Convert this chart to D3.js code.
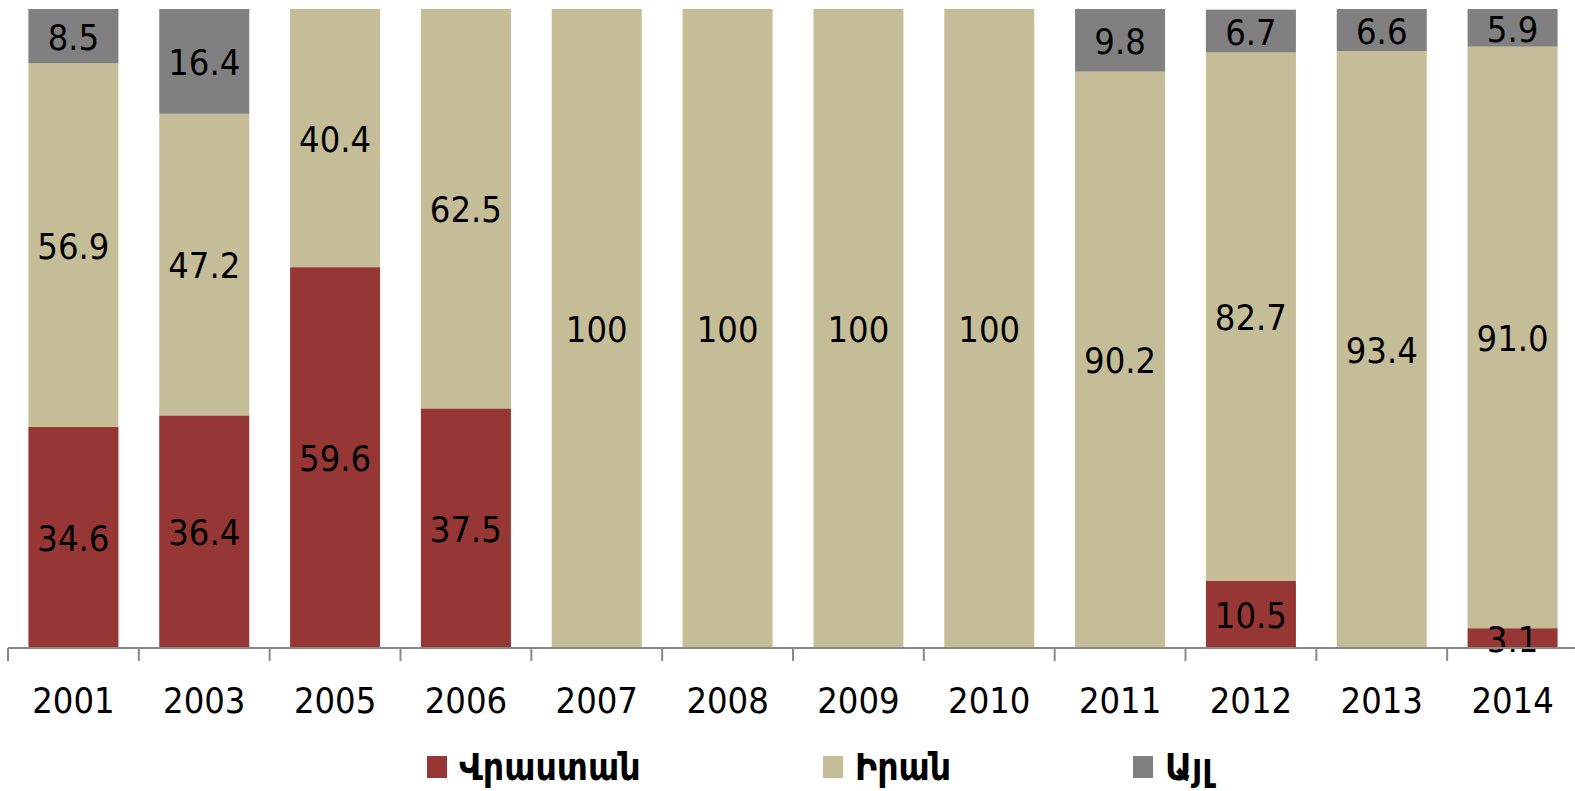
<!DOCTYPE html>
<html>
<head>
<meta charset="utf-8">
<script src="https://cdn.jsdelivr.net/npm/d3@7"></script>
<style>
  body { margin: 0; background: #fff; overflow: hidden; }
  svg text { font-family: "DejaVu Sans Condensed", "DejaVu Sans", sans-serif; }
</style>
</head>
<body>
<svg id="chart"></svg>
<script>
// data
var years = ["2001", "2003", "2005", "2006", "2007", "2008", "2009", "2010", "2011", "2012", "2013", "2014"];
var georgia = [34.6, 36.4, 59.6, 37.5, 0, 0, 0, 0, 0, 10.5, 0, 3.1];
var iran = [56.9, 47.2, 40.4, 62.5, 100, 100, 100, 100, 90.2, 82.7, 93.4, 91.0];
var other = [8.5, 16.4, 0, 0, 0, 0, 0, 0, 9.8, 6.7, 6.6, 5.9];
var iranLabels = ["56.9", "47.2", "40.4", "62.5", "100", "100", "100", "100", "90.2", "82.7", "93.4", "91.0"];
var seriesNames = ["Վրաստան", "Իրան", "Այլ"];
var colors = ["#963735", "#c4bd97", "#808080"];

var width = 1575, height = 791;
var plotLeft = 8, plotRight = 1578, plotTop = 9, base = 648;

var svg = d3.select("#chart").attr("width", width).attr("height", height);

var rows = years.map(function(y, i) {
  return { year: y, g: georgia[i], r: iran[i], o: other[i], rl: iranLabels[i] };
});

var x = d3.scaleBand()
  .domain(years)
  .range([plotLeft, plotRight])
  .paddingInner(0.312)
  .paddingOuter(0.156);

var y = d3.scaleLinear().domain([0, 100]).range([base, plotTop]);

var stack = d3.stack().keys(["g", "r", "o"]);
var layers = stack(rows);

var g = svg.append("g");
layers.forEach(function(layer, li) {
  var segs = layer.filter(function(d) { return d[1] - d[0] > 0; });
  g.selectAll(".seg" + li)
    .data(segs)
    .enter().append("rect")
    .attr("x", function(d) { return x(d.data.year); })
    .attr("width", x.bandwidth())
    .attr("y", function(d) { return y(d[1]); })
    .attr("height", function(d) { return y(d[0]) - y(d[1]); })
    .attr("fill", colors[li]);
});

// labels drawn after all bars so they sit on top
layers.forEach(function(layer, li) {
  var segs = layer.filter(function(d) { return d[1] - d[0] > 0; });
  g.selectAll(".lab" + li)
    .data(segs)
    .enter().append("text")
    .attr("x", function(d) { return x(d.data.year) + x.bandwidth() / 2; })
    .attr("y", function(d) { return (y(d[0]) + y(d[1])) / 2; })
    .attr("text-anchor", "middle")
    .attr("dy", "0.38em")
    .attr("font-size", 36)
    .attr("fill", "#000")
    .text(function(d) {
      if (li == 1) return d.data.rl;
      var v = li == 0 ? d.data.g : d.data.o;
      return v.toFixed(1);
    });
});

// category axis with ticks between groups
var axisG = svg.append("g");
axisG.append("line")
  .attr("x1", plotLeft).attr("x2", plotRight)
  .attr("y1", base).attr("y2", base)
  .attr("stroke", "#888").attr("stroke-width", 2);

var step = x.step();
var tickXs = d3.range(0, years.length + 1).map(function(i) { return plotLeft + i * step; });
axisG.selectAll(".tick")
  .data(tickXs)
  .enter().append("line")
  .attr("x1", function(d) { return d; }).attr("x2", function(d) { return d; })
  .attr("y1", base).attr("y2", base + 13)
  .attr("stroke", "#888").attr("stroke-width", 2);

axisG.selectAll(".yl")
  .data(years)
  .enter().append("text")
  .attr("x", function(d) { return x(d) + x.bandwidth() / 2; })
  .attr("y", 713)
  .attr("text-anchor", "middle")
  .attr("font-size", 36)
  .attr("fill", "#000")
  .text(function(d) { return d; });

// legend
var legendX = [427, 823, 1133];
var leg = svg.append("g");
seriesNames.forEach(function(name, i) {
  leg.append("rect")
    .attr("x", legendX[i]).attr("y", 756)
    .attr("width", 20).attr("height", 22)
    .attr("fill", colors[i]);
  leg.append("text")
    .attr("x", legendX[i] + 32).attr("y", 780)
    .attr("font-size", 37)
    .attr("font-weight", "bold")
    .attr("fill", "#000")
    .text(name);
});
</script>
</body>
</html>
